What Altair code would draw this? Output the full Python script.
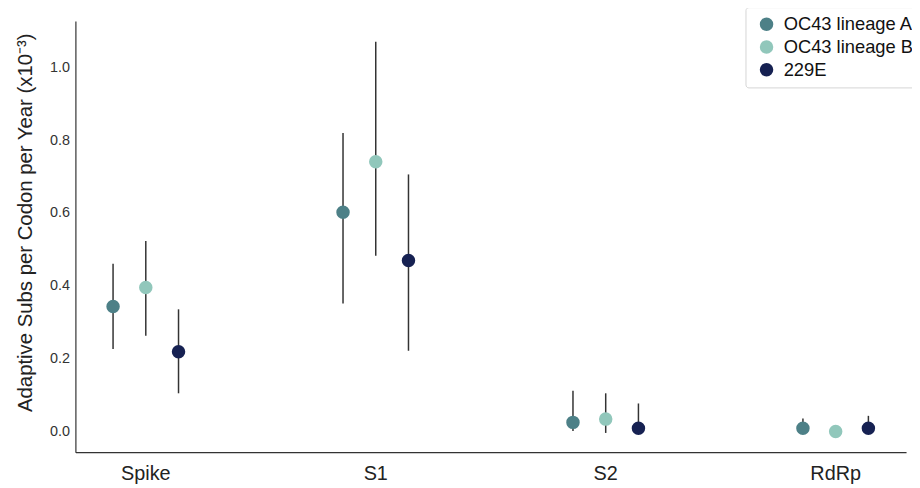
import altair as alt
import pandas as pd

genes = ["Spike", "S1", "S2", "RdRp"]
lineages = ["OC43 lineage A", "OC43 lineage B", "229E"]
colors = ["#4d8087", "#91c7bb", "#162152"]

rate_a = [0.343, 0.602, 0.024, 0.008]
lo_a = [0.226, 0.351, 0.0, 0.0]
hi_a = [0.460, 0.820, 0.111, 0.035]

rate_b = [0.395, 0.741, 0.033, -0.001]
lo_b = [0.262, 0.482, -0.005, -0.004]
hi_b = [0.523, 1.071, 0.104, 0.0]

rate_e = [0.218, 0.469, 0.008, 0.008]
lo_e = [0.104, 0.221, 0.0, 0.0]
hi_e = [0.335, 0.706, 0.076, 0.042]

rows = []
for lin, r, lo, hi in zip(lineages, [rate_a, rate_b, rate_e], [lo_a, lo_b, lo_e], [hi_a, hi_b, hi_e]):
    for g, rv, lv, hv in zip(genes, r, lo, hi):
        rows.append({"gene": g, "lineage": lin, "rate": rv, "lo": lv, "hi": hv})
df = pd.DataFrame(rows)

font = "Liberation Sans"

x_enc = alt.X("gene:N", sort=genes, title=None,
              scale=alt.Scale(paddingInner=0.573, paddingOuter=0.0926),
              axis=alt.Axis(labelAngle=0, labelFontSize=20, labelColor="#222", ticks=False,
                            labelPadding=12, domainColor="#333", domainWidth=1.2, labelFont=font))
xo_enc = alt.XOffset("lineage:N", sort=lineages,
                     scale=alt.Scale(domain=lineages, paddingInner=0, paddingOuter=0))
y_scale = alt.Scale(domain=[-0.058, 1.128], nice=False, zero=False)

bars = alt.Chart(df).mark_rule(color="#333", strokeWidth=1.5).encode(
    x=x_enc, xOffset=xo_enc,
    y=alt.Y("lo:Q", scale=y_scale),
    y2="hi:Q",
)

points = alt.Chart(df).mark_circle(size=185, opacity=1).encode(
    x=x_enc, xOffset=xo_enc,
    y=alt.Y("rate:Q", scale=y_scale,
            title="Adaptive Subs per Codon per Year (x10⁻³)",
            axis=alt.Axis(values=[0.0, 0.2, 0.4, 0.6, 0.8, 1.0], format=".1f", ticks=False,
                          grid=False, labelFontSize=14.5, labelColor="#333", labelPadding=6,
                          titleFontSize=20.5, titleFontWeight="normal", titleColor="#222",
                          titlePadding=14, titleY=203, domainColor="#333", domainWidth=1.2,
                          labelFont=font, titleFont=font)),
    color=alt.Color("lineage:N", sort=lineages,
                    scale=alt.Scale(domain=lineages, range=colors),
                    legend=alt.Legend(title=None, orient="none", legendX=676, legendY=-14,
                                      labelFontSize=18.5, labelFont=font, labelColor="#111",
                                      symbolSize=185, symbolType="circle", symbolStrokeWidth=0,
                                      rowPadding=4, padding=8, symbolOffset=4, labelOffset=8,
                                      strokeColor="#d4d4d4", fillColor="white", cornerRadius=3)),
)

chart = (bars + points).properties(
    width=838, height=435,
    autosize=alt.AutoSizeParams(type="none"),
    padding={"left": 68, "top": 11, "right": 6, "bottom": 34},
).configure_view(stroke=None).configure_axis(grid=False)

chart.save("out.html", embed_options={"renderer": "svg", "actions": False})
